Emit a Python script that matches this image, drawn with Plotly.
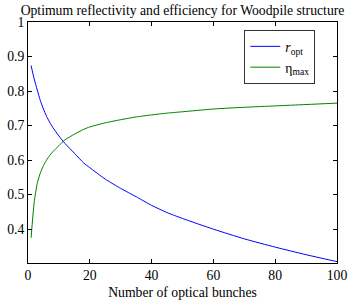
import plotly.graph_objects as go

n_bunches = [1, 2, 3, 4, 5, 6, 7, 8, 10, 12, 15, 18, 20, 25, 30, 35, 40, 45, 50, 60, 70, 80, 90, 100]
r_opt = [0.874, 0.835, 0.803, 0.772, 0.748, 0.727, 0.710, 0.695, 0.670, 0.648, 0.620, 0.592, 0.578,
         0.545, 0.518, 0.494, 0.469, 0.448, 0.431, 0.400, 0.372, 0.348, 0.326, 0.306]
eta_max = [0.375, 0.478, 0.533, 0.563, 0.584, 0.600, 0.613, 0.624, 0.642, 0.659, 0.675, 0.689, 0.696,
           0.708, 0.717, 0.725, 0.731, 0.736, 0.740, 0.748, 0.753, 0.757, 0.761, 0.765]

x_ticks = [0, 20, 40, 60, 80, 100]
y_ticks = [0.4, 0.5, 0.6, 0.7, 0.8, 0.9, 1.0]
y_ticktext = ["0.4", "0.5", "0.6", "0.7", "0.8", "0.9", "1"]

FONT = "'Liberation Serif', 'Times New Roman', serif"
FS = 13.7

fig = go.Figure()
fig.add_trace(go.Scatter(x=n_bunches, y=r_opt, mode="lines", name="<i>r</i><sub>opt</sub>",
                         line=dict(color="#0000ff", width=1, shape="spline", smoothing=0.6)))
fig.add_trace(go.Scatter(x=n_bunches, y=eta_max, mode="lines", name="η<sub>max</sub>",
                         line=dict(color="#008000", width=1, shape="spline", smoothing=0.6)))

axis_common = dict(showline=True, linecolor="black", linewidth=1, mirror="ticks",
                   ticks="inside", ticklen=4, tickcolor="black", tickwidth=1,
                   showgrid=False, zeroline=False, automargin=False,
                   tickfont=dict(family=FONT, size=FS, color="black"))

fig.update_layout(
    width=353, height=301,
    margin=dict(l=28, r=16, t=22, b=38),
    paper_bgcolor="white", plot_bgcolor="white",
    font=dict(family=FONT, size=FS, color="black"),
    title=dict(text="Optimum reflectivity and efficiency for Woodpile structure",
               x=0.5, xref="paper", xanchor="center",
               y=1 - 10 / 301, yref="container", yanchor="middle",
               font=dict(family=FONT, size=FS, color="black")),
    xaxis=dict(range=[0, 100], tickvals=x_ticks,
               title=dict(text="Number of optical bunches", standoff=4,
                          font=dict(family=FONT, size=FS, color="black")),
               **axis_common),
    yaxis=dict(range=[0.302, 1.0], tickvals=y_ticks, ticktext=y_ticktext, **axis_common),
    legend=dict(x=0.70, y=0.967, xanchor="left", yanchor="top",
                bgcolor="white", bordercolor="#333333", borderwidth=1,
                font=dict(family=FONT, size=FS, color="black"),
                itemwidth=30, tracegroupgap=0),
    showlegend=True,
)

fig.write_html("out.html", config={"displayModeBar": False},
               post_script="document.body.style.margin='0';document.body.style.padding='0';")
